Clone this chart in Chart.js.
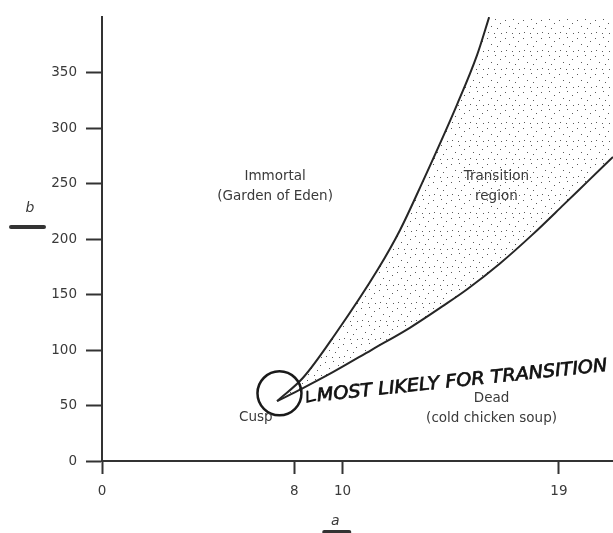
<!DOCTYPE html>
<html>
<head>
<meta charset="utf-8">
<script src="https://cdn.jsdelivr.net/npm/chart.js@4.4.1/dist/chart.umd.min.js"></script>
<style>
    html, body { margin: 0; padding: 0; background: #fff; }
</style>
</head>
<body>
<canvas id="cuspChart" width="613" height="533"></canvas>
<script>
// values (a across, b up)
const upperA = [7.28, 8.36, 9.69, 11.48, 12.39, 13.3, 14.76, 15.6, 16.1];
const upperB = [54, 75, 114, 173, 208, 250, 321, 366, 400];
const lowerA = [7.28, 8.3, 9.6, 11.2, 12.8, 14.2, 15.2, 16.55, 17.9, 19.2, 20.2, 21.25];
const lowerB = [54, 65, 80, 100, 120, 140, 155, 178, 204, 231, 252, 274];
const cuspA = [7.38];
const cuspB = [61];
const xTicks = [0, 8, 10, 19];
const yTicks = [0, 50, 100, 150, 200, 250, 300, 350];

const ink = '#262626';
const textColor = '#3a3a3a';
const textFont = '"DejaVu Sans", sans-serif';

function toPoints(xs, ys) {
    return xs.map((x, i) => ({ x: x, y: ys[i] }));
}

// dotted fill for the transition region
function makeStipple() {
    const c = document.createElement('canvas');
    c.width = 18;
    c.height = 18;
    const g = c.getContext('2d');
    g.fillStyle = '#5a5a5a';
    const dots = [[1, 2], [9, 1], [14, 5], [5, 8], [11, 10], [2, 14], [8, 15], [15, 15]];
    dots.forEach(([x, y]) => g.fillRect(x, y, 1, 1));
    return g.createPattern(c, 'repeat');
}

const labelsPlugin = {
    id: 'regionLabels',
    afterDraw(chart) {
        const ctx = chart.ctx;
        const xs = chart.scales.x;
        const ys = chart.scales.y;
        const notes = [
            { lines: ['Immortal', '(Garden of Eden)'], a: 7.2, b: 256 },
            { lines: ['Transition', 'region'], a: 16.4, b: 256 },
            { lines: ['Dead', '(cold chicken soup)'], a: 16.2, b: 56 },
            { lines: ['Cusp'], a: 6.4, b: 39 }
        ];

        ctx.save();
        ctx.fillStyle = textColor;
        ctx.font = '13.5px ' + textFont;
        ctx.textAlign = 'center';
        ctx.textBaseline = 'middle';
        notes.forEach(n => {
            const x = xs.getPixelForValue(n.a);
            const y = ys.getPixelForValue(n.b);
            n.lines.forEach((t, i) => ctx.fillText(t, x, y + i * 20));
        });

        // axis names
        ctx.font = 'italic 14px ' + textFont;
        const bx = 30;
        const by = ys.getPixelForValue(228);
        ctx.fillText('b', bx, by);
        const ax = xs.getPixelForValue(9.7);
        const ay = 521;
        ctx.fillText('a', ax, ay);

        // brush strokes under the axis names
        ctx.strokeStyle = '#333';
        ctx.lineCap = 'round';
        ctx.lineWidth = 4;
        ctx.beginPath();
        ctx.moveTo(bx - 19, by + 19);
        ctx.lineTo(bx + 14, by + 19);
        ctx.stroke();
        ctx.beginPath();
        ctx.moveTo(ax - 11, ay + 11);
        ctx.lineTo(ax + 14, ay + 11);
        ctx.stroke();

        // handwritten note
        const hx = xs.getPixelForValue(8.94);
        const hy = ys.getPixelForValue(58);
        const hand = 'MOST LIKELY FOR TRANSITION';
        ctx.translate(hx, hy);
        ctx.rotate(-6 * Math.PI / 180);
        ctx.lineWidth = 2;
        ctx.lineCap = 'round';
        ctx.strokeStyle = '#111';
        ctx.beginPath();
        ctx.moveTo(-9, -6);
        ctx.lineTo(-10, 4);
        ctx.lineTo(-2, 3);
        ctx.stroke();
        ctx.font = 'italic 18px ' + textFont;
        ctx.fillStyle = '#111';
        ctx.textAlign = 'left';
        const w = ctx.measureText(hand).width;
        ctx.scale(292 / w, 1);
        ctx.lineWidth = 0.7;
        ctx.fillText(hand, 0, 0);
        ctx.strokeText(hand, 0, 0);
        ctx.restore();
    }
};

const canvas = document.getElementById('cuspChart');
new Chart(canvas, {
    type: 'scatter',
    data: {
        datasets: [
            {
                label: 'upper',
                data: toPoints(upperA, upperB),
                showLine: true,
                borderColor: ink,
                borderWidth: 2,
                pointRadius: 0,
                cubicInterpolationMode: 'monotone',
                fill: 'end',
                backgroundColor: '#ffffff',
                order: 1
            },
            {
                label: 'lower',
                data: toPoints(lowerA, lowerB),
                showLine: true,
                borderColor: ink,
                borderWidth: 2,
                pointRadius: 0,
                cubicInterpolationMode: 'monotone',
                fill: 'end',
                backgroundColor: makeStipple(),
                order: 2
            },
            {
                label: 'cusp',
                data: toPoints(cuspA, cuspB),
                showLine: false,
                pointRadius: 22,
                pointBorderWidth: 2.5,
                pointBorderColor: '#1a1a1a',
                pointBackgroundColor: 'rgba(0,0,0,0)',
                order: 0
            }
        ]
    },
    options: {
        responsive: false,
        animation: false,
        events: [],
        layout: { autoPadding: false, padding: { top: 12, left: 0, right: 0, bottom: 0 } },
        plugins: {
            legend: { display: false },
            tooltip: { enabled: false }
        },
        scales: {
            x: {
                type: 'linear',
                min: 0,
                max: 21.25,
                afterBuildTicks: s => { s.ticks = xTicks.map(v => ({ value: v })); },
                afterFit: s => { s.height = 72; },
                ticks: {
                    color: textColor,
                    font: { family: textFont, size: 13.5 },
                    padding: 9,
                    maxRotation: 0,
                    autoSkip: false
                },
                grid: {
                    drawOnChartArea: false,
                    tickLength: 13,
                    tickWidth: 2,
                    tickColor: '#333'
                },
                border: { display: true, color: '#333', width: 2 }
            },
            y: {
                type: 'linear',
                min: 0,
                max: 400,
                afterBuildTicks: s => { s.ticks = yTicks.map(v => ({ value: v })); },
                afterFit: s => { s.width = 102; },
                ticks: {
                    color: textColor,
                    font: { family: textFont, size: 13.5 },
                    padding: 9
                },
                grid: {
                    drawOnChartArea: false,
                    tickLength: 16,
                    tickWidth: 2,
                    tickColor: '#333'
                },
                border: { display: true, color: '#333', width: 2 }
            }
        }
    },
    plugins: [labelsPlugin]
});
</script>
</body>
</html>
